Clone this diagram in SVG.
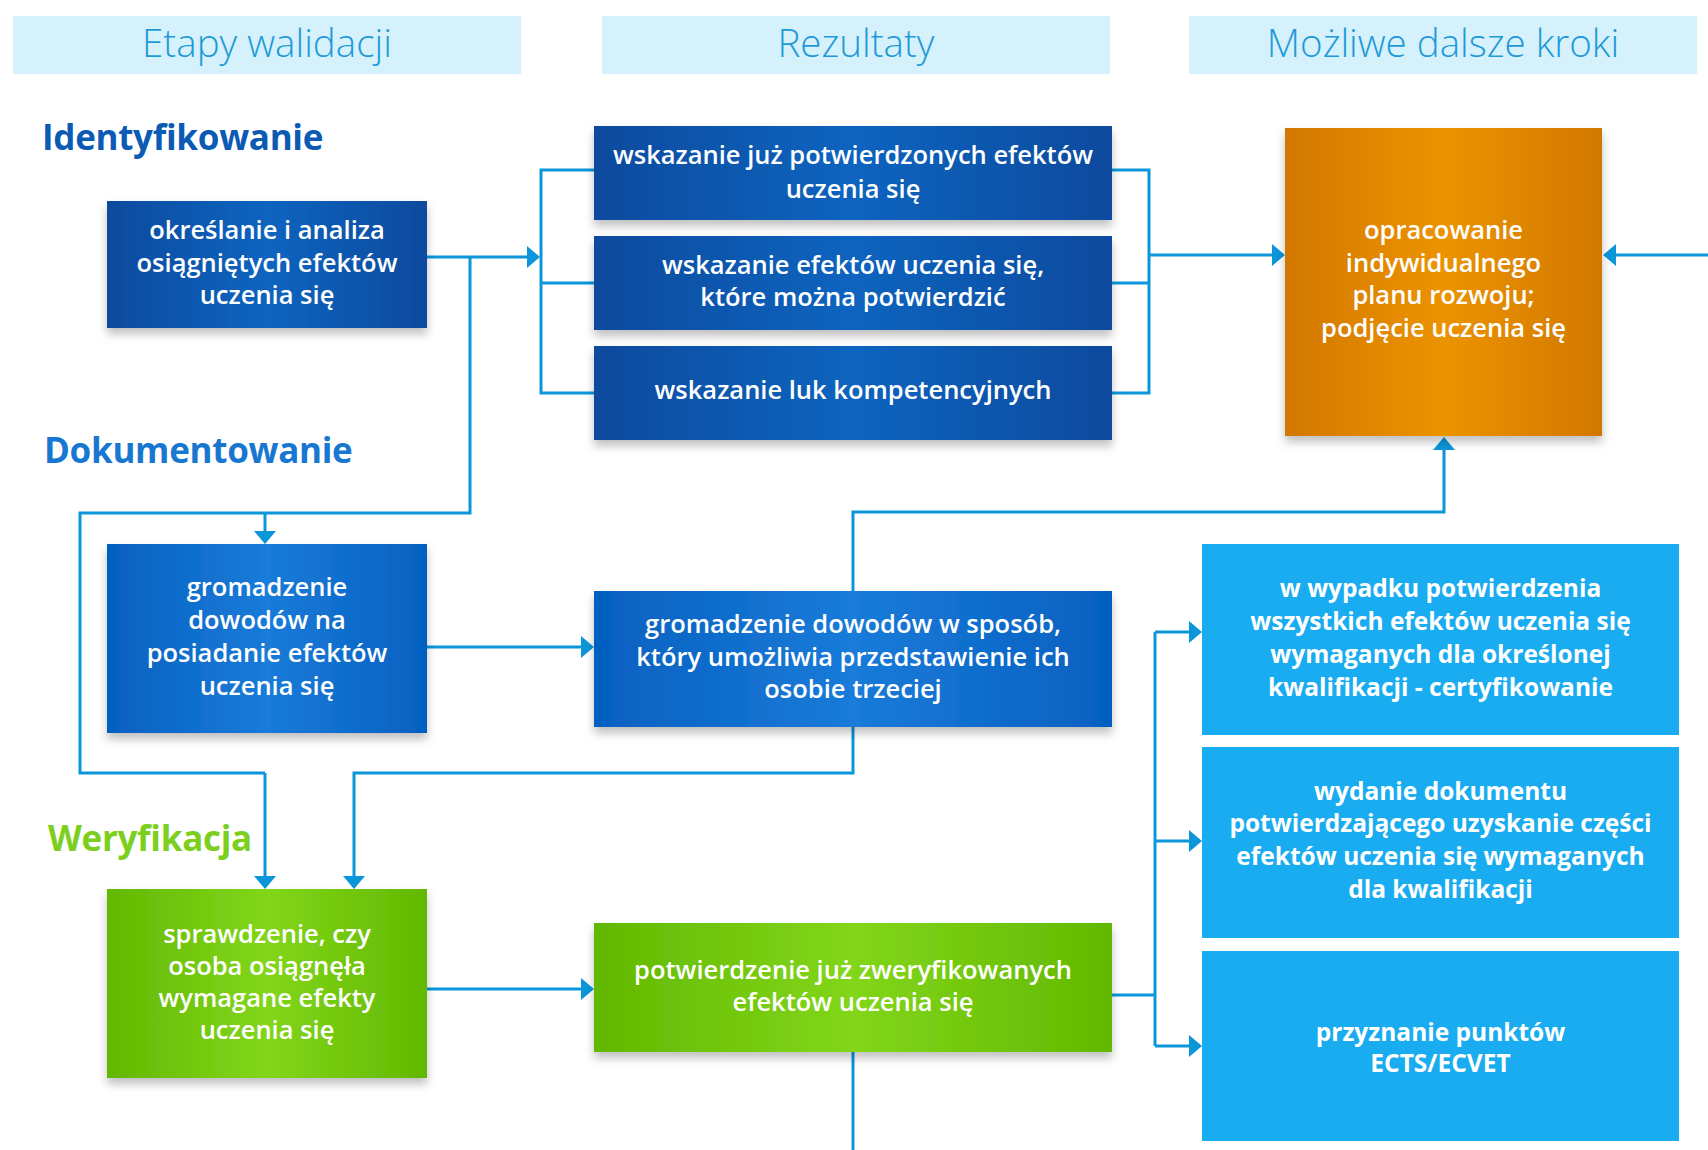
<svg xmlns="http://www.w3.org/2000/svg" width="1708" height="1150" viewBox="0 0 1708 1150">
<defs>
<style>
.hdr{fill:#d5f1fc}
.htxt{font-family:"Open Sans","Noto Sans",sans-serif;font-weight:300;font-size:38.5px;fill:#1e9ad8;text-anchor:middle}
.stage{font-family:"Open Sans","Noto Sans",sans-serif;font-weight:700;font-size:35px;letter-spacing:-0.3px}
.t{font-family:"Open Sans","Noto Sans",sans-serif;font-weight:600;font-size:25.5px;fill:#ffffff;text-anchor:middle}
.tb{font-family:"Open Sans","Noto Sans",sans-serif;font-weight:700;font-size:24.5px;fill:#ffffff;text-anchor:middle}
.c{fill:none;stroke:#0a96d9;stroke-width:3}
.a{fill:none;stroke:#0a96d9;stroke-width:3;marker-end:url(#ah)}
</style>
<linearGradient id="gDark" x1="0" y1="0" x2="1" y2="0">
<stop offset="0" stop-color="#0b4a9e"/><stop offset="0.5" stop-color="#0a64bf"/><stop offset="1" stop-color="#0b4a9e"/>
</linearGradient>
<linearGradient id="gMid" x1="0" y1="0" x2="1" y2="0">
<stop offset="0" stop-color="#0560c0"/><stop offset="0.5" stop-color="#1a7bd9"/><stop offset="1" stop-color="#0560c0"/>
</linearGradient>
<linearGradient id="gGreen" x1="0" y1="0" x2="1" y2="0">
<stop offset="0" stop-color="#62b800"/><stop offset="0.5" stop-color="#82d61a"/><stop offset="1" stop-color="#62b800"/>
</linearGradient>
<linearGradient id="gOrange" x1="0" y1="0" x2="1" y2="0">
<stop offset="0" stop-color="#d27800"/><stop offset="0.5" stop-color="#ec9300"/><stop offset="1" stop-color="#d27800"/>
</linearGradient>
<filter id="sh" x="-10%" y="-10%" width="120%" height="130%">
<feDropShadow dx="0" dy="6" stdDeviation="5" flood-color="#000" flood-opacity="0.25"/>
</filter>
<marker id="ah" markerUnits="userSpaceOnUse" markerWidth="14" markerHeight="22" refX="11" refY="11" orient="auto">
<path d="M0,0 L13,11 L0,22 Z" fill="#0a96d9"/>
</marker>
</defs>
<rect width="1708" height="1150" fill="#ffffff"/>

<g id="headers">
<rect class="hdr" x="13" y="16" width="508" height="58"/>
<text class="htxt" x="267" y="57">Etapy walidacji</text>
<rect class="hdr" x="602" y="16" width="508" height="58"/>
<text class="htxt" x="856" y="57">Rezultaty</text>
<rect class="hdr" x="1189" y="16" width="508" height="58"/>
<text class="htxt" x="1443" y="57">Możliwe dalsze kroki</text>
</g>

<g id="stages">
<text class="stage" x="42" y="150" fill="#0b5bb5">Identyfikowanie</text>
<text class="stage" x="44" y="463" fill="#1877d0">Dokumentowanie</text>
<text class="stage" x="48" y="851" fill="#7ccf1e">Weryfikacja</text>
</g>

<g id="connectors">
<path class="a" d="M427,257 H538"/>
<path class="c" d="M470,257 V513 H80 V773 H265"/>
<path class="a" d="M265,513 V542"/>
<path class="a" d="M265,773 V887"/>
<path class="c" d="M594,170 H541 V393 H594 M541,283 H594"/>
<path class="c" d="M1112,170 H1149 V393 H1112 M1112,283 H1149"/>
<path class="a" d="M1149,255 H1283"/>
<path class="a" d="M1708,255 H1605"/>
<path class="a" d="M427,647 H592"/>
<path class="a" d="M853,591 V512 H1444 V439"/>
<path class="a" d="M853,727 V773 H354 V887"/>
<path class="a" d="M427,989 H592"/>
<path class="c" d="M1112,995 H1155 M1155,632 V1046"/>
<path class="a" d="M1155,632 H1200"/>
<path class="a" d="M1155,841 H1200"/>
<path class="a" d="M1155,1046 H1200"/>
<path class="c" d="M853,1052 V1150"/>
</g>

<g id="n-identify">
<rect x="107" y="201" width="320" height="127" fill="url(#gDark)" filter="url(#sh)"/>
<text class="t" x="267" y="239">określanie i analiza</text>
<text class="t" x="267" y="272">osiągniętych efektów</text>
<text class="t" x="267" y="304">uczenia się</text>
</g>

<g id="n-res-a">
<rect x="594" y="126" width="518" height="94" fill="url(#gDark)" filter="url(#sh)"/>
<text class="t" x="853" y="164">wskazanie już potwierdzonych efektów</text>
<text class="t" x="853" y="198">uczenia się</text>
</g>

<g id="n-res-b">
<rect x="594" y="236" width="518" height="94" fill="url(#gDark)" filter="url(#sh)"/>
<text class="t" x="853" y="274">wskazanie efektów uczenia się,</text>
<text class="t" x="853" y="306">które można potwierdzić</text>
</g>

<g id="n-res-c">
<rect x="594" y="346" width="518" height="94" fill="url(#gDark)" filter="url(#sh)"/>
<text class="t" x="853" y="399">wskazanie luk kompetencyjnych</text>
</g>

<g id="n-plan">
<rect x="1285" y="128" width="317" height="308" fill="url(#gOrange)" filter="url(#sh)"/>
<text class="t" x="1443.5" y="239">opracowanie</text>
<text class="t" x="1443.5" y="272">indywidualnego</text>
<text class="t" x="1443.5" y="304">planu rozwoju;</text>
<text class="t" x="1443.5" y="337">podjęcie uczenia się</text>
</g>

<g id="n-document">
<rect x="107" y="544" width="320" height="189" fill="url(#gMid)" filter="url(#sh)"/>
<text class="t" x="267" y="596">gromadzenie</text>
<text class="t" x="267" y="629">dowodów na</text>
<text class="t" x="267" y="662">posiadanie efektów</text>
<text class="t" x="267" y="695">uczenia się</text>
</g>

<g id="n-evidence">
<rect x="594" y="591" width="518" height="136" fill="url(#gMid)" filter="url(#sh)"/>
<text class="t" x="853" y="633">gromadzenie dowodów w sposób,</text>
<text class="t" x="853" y="666">który umożliwia przedstawienie ich</text>
<text class="t" x="853" y="698">osobie trzeciej</text>
</g>

<g id="n-verify">
<rect x="107" y="889" width="320" height="189" fill="url(#gGreen)" filter="url(#sh)"/>
<text class="t" x="267" y="943">sprawdzenie, czy</text>
<text class="t" x="267" y="975">osoba osiągnęła</text>
<text class="t" x="267" y="1007">wymagane efekty</text>
<text class="t" x="267" y="1039">uczenia się</text>
</g>

<g id="n-confirm">
<rect x="594" y="923" width="518" height="129" fill="url(#gGreen)" filter="url(#sh)"/>
<text class="t" x="853" y="979">potwierdzenie już zweryfikowanych</text>
<text class="t" x="853" y="1011">efektów uczenia się</text>
</g>

<g id="n-cert">
<rect x="1202" y="544" width="477" height="191" fill="#1aacf0"/>
<text class="tb" x="1440.5" y="597">w wypadku potwierdzenia</text>
<text class="tb" x="1440.5" y="630">wszystkich efektów uczenia się</text>
<text class="tb" x="1440.5" y="663">wymaganych dla określonej</text>
<text class="tb" x="1440.5" y="696">kwalifikacji - certyfikowanie</text>
</g>

<g id="n-partial">
<rect x="1202" y="747" width="477" height="191" fill="#1aacf0"/>
<text class="tb" x="1440.5" y="800">wydanie dokumentu</text>
<text class="tb" x="1440.5" y="832">potwierdzającego uzyskanie części</text>
<text class="tb" x="1440.5" y="865">efektów uczenia się wymaganych</text>
<text class="tb" x="1440.5" y="898">dla kwalifikacji</text>
</g>

<g id="n-ects">
<rect x="1202" y="951" width="477" height="190" fill="#1aacf0"/>
<text class="tb" x="1440.5" y="1041">przyznanie punktów</text>
<text class="tb" x="1440.5" y="1072">ECTS/ECVET</text>
</g>
</svg>
